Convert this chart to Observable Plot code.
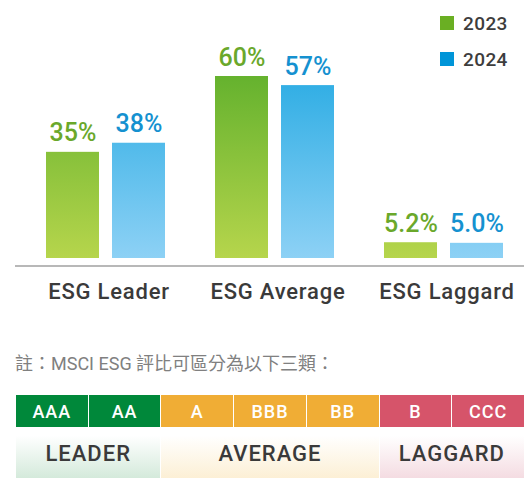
<!DOCTYPE html>
<html>
<head>
<meta charset="utf-8">
<script src="https://cdn.jsdelivr.net/npm/d3@7"></script>
<script src="https://cdn.jsdelivr.net/npm/@observablehq/plot@0.6"></script>
<style>
  html, body { margin: 0; padding: 0; background: #fff; }
  #wrap { position: relative; width: 524px; height: 478px; overflow: hidden; font-family: Roboto, "Noto Sans", sans-serif; }
  #chart { position: absolute; left: 0; top: 0; }
  #legend { position: absolute; left: 440px; top: 10px; font-size: 19px; font-weight: 500; color: #3d3d3d; letter-spacing: 0.4px; }
  #legend .item { display: flex; align-items: center; height: 26px; margin-bottom: 10px; }
  #legend .sw { width: 14px; height: 14px; margin-right: 9px; }
  #note { position: absolute; left: 15px; top: 349px; font-size: 18px; color: #808080; font-family: Roboto, "Noto Sans CJK TC", sans-serif; white-space: nowrap; }
  #table { position: absolute; left: 16px; top: 395px; width: 508px; display: grid; grid-template-columns: repeat(7, 1fr); grid-template-rows: 32px 51px; column-gap: 1px; row-gap: 1px; }
  #table .r { color: #fff; font-size: 18px; font-weight: 500; letter-spacing: 1px; display: flex; align-items: center; justify-content: center; }
  #table .g { color: #3a3a3a; font-size: 22px; font-weight: 500; letter-spacing: 1px; display: flex; align-items: center; justify-content: center; }
</style>
</head>
<body>
<div id="wrap">
  <div id="chart"></div>
  <div id="legend"></div>
  <div id="note"></div>
  <div id="table"></div>
</div>
<script>
const categories = ["ESG Leader", "ESG Average", "ESG Laggard"];
const years = ["2023", "2024"];
const values2023 = [35, 60, 5.2];
const values2024 = [38, 57, 5.0];
const labels2023 = ["35%", "60%", "5.2%"];
const labels2024 = ["38%", "57%", "5.0%"];
const yearColors = ["#6aaf23", "#0095d8"];
const labelColors = ["#6aa82b", "#1591d0"];
const noteText = "註：MSCI ESG 評比可區分為以下三類：";
const ratings = ["AAA", "AA", "A", "BBB", "BB", "B", "CCC"];
const ratingColors = ["#00883a", "#00883a", "#f0ad35", "#f0ad35", "#f0ad35", "#d6546a", "#d6546a"];
const groups = ["LEADER", "AVERAGE", "LAGGARD"];
const groupSpans = [2, 3, 2];
const groupTints = ["#d3e9da", "#fcefd4", "#f4dbe1"];

const data = [];
categories.forEach((c, i) => {
  data.push({category: c, year: "2023", value: values2023[i], label: labels2023[i]});
  data.push({category: c, year: "2024", value: values2024[i], label: labels2024[i]});
});
const d23 = data.filter(d => d.year === "2023");
const d24 = data.filter(d => d.year === "2024");

const plot = Plot.plot({
  width: 524,
  height: 310,
  marginLeft: 15,
  marginRight: 0,
  marginTop: 76,
  marginBottom: 52,
  style: {fontFamily: "Roboto, sans-serif", background: "transparent"},
  fx: {domain: categories, paddingInner: 50 / 169, paddingOuter: 26 / 169, align: 0.6, axis: null},
  x: {domain: years, paddingInner: 0.2, paddingOuter: 0, axis: null},
  y: {domain: [0, 60], axis: null},
  marks: [
    Plot.barY(d23, {fx: "category", x: "year", y: "value", fill: "url(#g23)"}),
    Plot.barY(d24, {fx: "category", x: "year", y: "value", fill: "url(#g24)"}),
    Plot.text(d23, {fx: "category", x: "year", y: "value", text: "label", fill: labelColors[0], fontSize: 25, fontWeight: 500, lineAnchor: "bottom", dy: -11}),
    Plot.text(d24, {fx: "category", x: "year", y: "value", text: "label", fill: labelColors[1], fontSize: 25, fontWeight: 500, lineAnchor: "bottom", dy: -11}),
    Plot.axisFx({anchor: "bottom", tickSize: 0, tickPadding: 25, fontSize: 22, fontWeight: 500, fill: "#3a3a3a", label: null, dx: 3})
  ]
});

const yScale = plot.scale("y");
const yTop = yScale.apply(60), yBot = yScale.apply(0);
const svg = d3.select(plot);
svg.selectAll("[aria-label='fx-axis tick label'] text").style("letter-spacing", "0.8px");
const defs = svg.insert("defs", ":first-child");
[["g23", "#65b22e", "#b6d54c"], ["g24", "#2eade4", "#8dd1f5"]].forEach(([id, c1, c2]) => {
  const g = defs.append("linearGradient").attr("id", id).attr("gradientUnits", "userSpaceOnUse")
    .attr("x1", 0).attr("x2", 0).attr("y1", yTop).attr("y2", yBot);
  g.append("stop").attr("offset", 0).attr("stop-color", c1);
  g.append("stop").attr("offset", 1).attr("stop-color", c2);
});
svg.append("line")
  .attr("x1", 15).attr("x2", 524)
  .attr("y1", yBot + 8).attr("y2", yBot + 8)
  .attr("stroke", "#b8b8b8").attr("stroke-width", 2);
document.getElementById("chart").appendChild(plot);

const legend = d3.select("#legend");
years.forEach((y, i) => {
  const it = legend.append("div").attr("class", "item");
  it.append("div").attr("class", "sw").style("background", yearColors[i]);
  it.append("span").text(y);
});

document.getElementById("note").textContent = noteText;

const table = d3.select("#table");
ratings.forEach((r, i) => {
  table.append("div").attr("class", "r").style("background", ratingColors[i]).text(r);
});
groups.forEach((g, i) => {
  table.append("div").attr("class", "g")
    .style("grid-column", `span ${groupSpans[i]}`)
    .style("background", `linear-gradient(to bottom, #ffffff 0%, #ffffff 15%, ${groupTints[i]} 100%)`)
    .text(g);
});
</script>
</body>
</html>
